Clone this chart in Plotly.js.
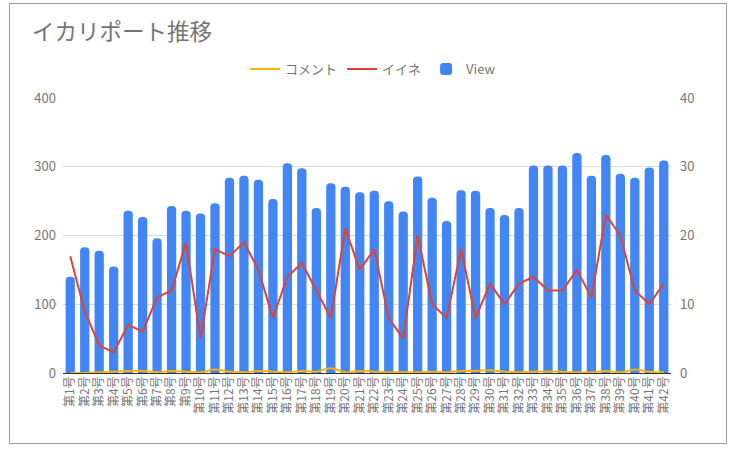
<!DOCTYPE html>
<html>
<head>
<meta charset="utf-8">
<script src="https://cdn.plot.ly/plotly-3.0.1.min.js"></script>
<style>
  html, body { margin: 0; padding: 0; background: #fff; }
  #wrap { position: relative; width: 730px; height: 451px; }
  #chart { position: absolute; left: 0; top: 0; width: 730px; height: 451px; }
  #frame { position: absolute; left: 9px; top: 3px; width: 716px; height: 439px; border: 1px solid #9e9e9e; pointer-events: none; }
</style>
</head>
<body>
<div id="wrap"><div id="chart"></div><div id="frame"></div></div>
<script>
const categories = [];
for (let i = 1; i <= 42; i++) categories.push('第' + i + '号');

const views = [140, 183, 178, 155, 236, 227, 196, 243, 236, 232, 247, 284, 287, 281,
  253, 305, 298, 240, 276, 271, 263, 265, 250, 235, 286, 255, 221, 266, 265,
  240, 230, 240, 302, 302, 302, 320, 287, 317, 290, 284, 299, 309];
const likes = [17, 9, 4, 3, 7, 6, 11, 12, 19, 5, 18, 17, 19, 15,
  8, 14, 16, 12, 8, 21, 15, 18, 8, 5, 20, 10, 8, 18, 8,
  13, 10, 13, 14, 12, 12, 15, 11, 23, 20, 12, 10, 13];
const comments = [0, 0, 1, 2, 3, 3, 1, 3, 2, 1, 5, 2, 1, 3,
  2, 1, 3, 2, 7, 1, 3, 2, 1, 1, 1, 2, 1, 3, 3,
  4, 2, 1, 2, 2, 2, 1, 1, 3, 1, 5, 2, 1];
const leftTicks = [0, 100, 200, 300, 400];
const rightTicks = [0, 10, 20, 30, 40];

const gray = '#757575';
const font = '"Noto Sans CJK JP", Roboto, "Noto Sans", sans-serif';

const data = [
  {
    type: 'scatter', mode: 'lines', name: 'コメント',
    x: categories, y: comments, yaxis: 'y',
    line: { color: '#F4B400', width: 2, shape: 'spline', smoothing: 1 },
    hoverinfo: 'skip'
  },
  {
    type: 'scatter', mode: 'lines', name: 'イイネ',
    x: categories, y: likes, yaxis: 'y2',
    line: { color: '#DB4437', width: 2 }
  },
  {
    type: 'bar', name: 'View',
    x: categories, y: views, yaxis: 'y',
    marker: { color: '#4285F4', cornerradius: 4 }
  }
];

const layout = {
  width: 730, height: 451,
  margin: { l: 63, r: 59, t: 98, b: 78 },
  paper_bgcolor: '#fff', plot_bgcolor: '#fff',
  font: { family: font, color: gray, size: 13 },
  title: {
    text: 'イカリポート推移',
    x: 32 / 730, xref: 'container', xanchor: 'left',
    y: 1, yref: 'container', yanchor: 'top',
    pad: { t: 24 },
    font: { family: font, size: 22.5, color: gray }
  },
  showlegend: true,
  legend: {
    orientation: 'h', x: 0.51, xanchor: 'center',
    y: 1.105, yanchor: 'middle',
    font: { family: font, size: 13, color: gray },
    traceorder: 'normal',
    itemwidth: 30
  },
  bargap: 0.36,
  xaxis: {
    type: 'category',
    tickangle: -90,
    tickfont: { family: font, size: 12, color: gray },
    showgrid: false,
    showline: false,
    ticks: '',
    fixedrange: true
  },
  yaxis: {
    range: [0, 400],
    tickvals: leftTicks,
    ticktext: leftTicks.map(String),
    gridcolor: '#d9d9d9',
    zeroline: true, zerolinecolor: '#333', zerolinewidth: 1,
    tickfont: { family: font, size: 13, color: gray },
    ticklabelstandoff: 6,
    fixedrange: true
  },
  yaxis2: {
    range: [0, 40],
    overlaying: 'y', side: 'right',
    tickvals: rightTicks,
    ticktext: rightTicks.map(String),
    showgrid: false, zeroline: false,
    tickfont: { family: font, size: 13, color: gray },
    ticklabelstandoff: 8,
    fixedrange: true
  }
};

Plotly.newPlot('chart', data, layout, { displayModeBar: false, staticPlot: true });
</script>
</body>
</html>
